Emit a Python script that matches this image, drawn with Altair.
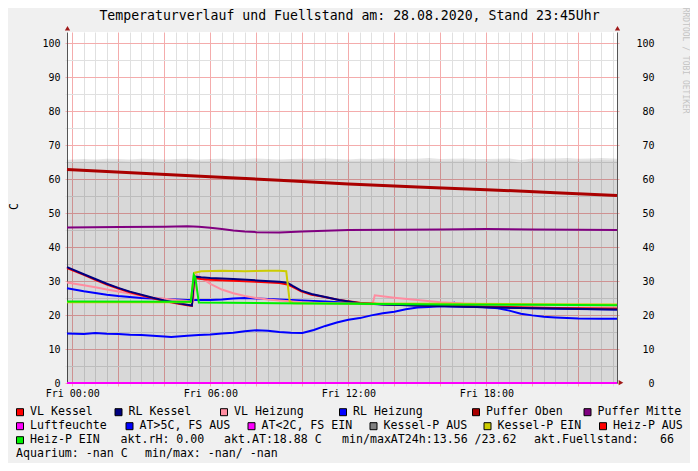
import altair as alt
import pandas as pd

# ---------------- texts ----------------
TITLE = "Temperaturverlauf und Fuellstand am: 28.08.2020, Stand 23:45Uhr"
Y_TITLE = "C"
WATERMARK = "RRDTOOL / TOBI OETIKER"

tick_hours = [0, 6, 12, 18]
tick_labels = ["Fri 00:00", "Fri 06:00", "Fri 12:00", "Fri 18:00"]

series_names = ["VL Kessel", "RL Kessel", "VL Heizung", "RL Heizung", "Puffer Oben",
                "Puffer Mitte", "Luftfeuchte", "AT>5C, FS AUS", "AT<2C, FS EIN",
                "Kessel-P AUS", "Kessel-P EIN", "Heiz-P AUS", "Heiz-P EIN"]
series_colors = ["#ff0000", "#000080", "#ff8ca0", "#0000ff", "#aa0000",
                 "#800080", "#ff00ff", "#0000ff", "#ff00ff",
                 "#808080", "#cccc00", "#ff0000", "#00f000"]

stat_row3 = ["akt.rH: 0.00", "akt.AT:18.88 C", "min/maxAT24h:13.56 /23.62", "akt.Fuellstand:", "66"]
stat_row4 = ["Aquarium: -nan C", "min/max: -nan/ -nan"]

# ---------------- data (hours since Fri 00:00) ----------------
fuell_h = [-0.23] + [i * 0.5 for i in range(48)] + [23.68]
fuell_v = [65.1, 65.1, 65.2, 65.3, 65.3, 65.4, 65.2, 65.3, 65.3, 65.2,
           65.2, 65.4, 65.3, 65.3, 65.4, 65.2, 65.3, 65.4, 65.3, 65.2,
           65.3, 65.4, 65.3, 65.3, 65.4, 65.3, 65.3, 65.4, 65.5, 65.4,
           65.3, 65.4, 65.5, 65.3, 65.4, 65.5, 65.4, 65.3, 65.5, 65.4,
           64.8, 65.5, 65.4, 65.5, 65.5, 65.4, 65.5, 65.6, 65.5, 65.5]
fuell_max = [65.7, 65.8, 65.9, 65.8, 66.0, 65.9, 65.8, 66.0, 65.9, 65.8,
             65.9, 66.0, 65.8, 65.9, 66.0, 65.8, 65.9, 66.1, 65.9, 65.8,
             65.9, 66.0, 65.9, 66.1, 65.9, 65.8, 66.0, 65.9, 66.1, 66.0,
             65.9, 66.0, 66.2, 65.9, 66.0, 66.1, 65.9, 65.9, 66.0, 66.1,
             65.6, 66.1, 66.0, 66.1, 66.2, 66.0, 66.1, 66.2, 66.1, 66.0]

kessel_h = [-0.23, 0.5, 1.0, 1.5, 2.0, 2.5, 3.0, 3.5, 4.0, 4.5, 5.0, 5.2, 5.3, 5.6, 6.0,
            7.0, 8.0, 9.0, 9.35, 9.6, 9.95, 10.4, 10.8, 11.6, 12.5, 13.5, 15.0, 18.0, 21.0, 23.68]
rl_kessel_v = [34.1, 32.0, 30.6, 29.2, 28.0, 26.9, 26.0, 25.1, 24.3, 23.6, 23.0, 22.8, 31.3, 31.1, 30.9,
               30.6, 30.2, 29.8, 29.5, 28.5, 27.2, 26.2, 25.6, 24.4, 23.5, 23.1, 22.8, 22.3, 21.9, 21.6]
vl_kessel_v = [33.8, 31.8, 30.4, 29.0, 27.8, 26.7, 25.8, 24.9, 24.1, 23.5, 22.9, 22.7, 30.9, 30.6, 30.4,
               30.1, 29.8, 29.4, 29.0, 28.2, 27.0, 26.0, 25.5, 24.4, 23.6, 23.2, 22.9, 22.5, 22.1, 21.9]

vl_heiz_h = [-0.23, 0.5, 1.0, 1.5, 2.0, 2.5, 3.0, 3.5, 4.0, 4.5, 5.0, 5.25, 5.4, 5.6, 6.0, 6.5,
             7.0, 7.5, 8.0, 8.5, 9.0, 10.0, 11.0, 12.0, 13.05, 13.15, 14.0, 15.0, 16.0, 17.0,
             18.0, 20.0, 23.68]
vl_heiz_v = [29.6, 28.8, 28.2, 27.5, 26.9, 26.3, 25.7, 25.2, 24.8, 24.4, 24.1, 24.0, 31.8, 31.0, 29.2, 27.5,
             26.4, 25.6, 25.0, 24.6, 24.3, 23.8, 23.5, 23.3, 23.2, 25.8, 25.1, 24.4, 23.8, 23.4,
             23.2, 23.0, 22.8]

rl_heiz_h = [-0.23, 0.5, 1.0, 1.5, 2.0, 2.5, 3.0, 4.0, 5.0, 6.0, 6.5, 7.0, 7.5, 8.0, 9.0,
             10.0, 11.0, 12.0, 13.0, 14.0, 16.0, 18.0, 20.0, 22.0, 23.68]
rl_heiz_v = [27.9, 27.0, 26.5, 26.0, 25.6, 25.3, 25.0, 24.7, 24.4, 24.4, 24.6, 24.9, 25.0, 24.9, 24.6,
             24.3, 24.0, 23.6, 23.3, 23.0, 22.6, 22.3, 22.0, 21.8, 21.6]

at_h = [-0.23, 0.5, 1.0, 1.5, 2.0, 2.5, 3.0, 3.5, 4.0, 4.3, 5.0, 5.5, 6.0, 6.5, 7.0, 7.5,
        8.0, 8.5, 9.0, 9.5, 10.0, 10.5, 11.0, 11.5, 12.0, 12.5, 13.0, 13.5, 14.0, 14.5,
        15.0, 15.5, 16.0, 16.5, 16.6, 16.7, 17.0, 17.5, 18.0, 18.5, 19.0, 19.5, 20.0, 20.5,
        21.0, 22.0, 23.0, 23.68]
at_v = [14.6, 14.4, 14.7, 14.5, 14.4, 14.2, 14.1, 13.9, 13.7, 13.56, 13.9, 14.1, 14.3, 14.6, 14.8, 15.2,
        15.5, 15.4, 15.0, 14.8, 14.7, 15.6, 16.8, 17.8, 18.6, 19.1, 19.9, 20.5, 21.0, 21.7,
        22.2, 22.4, 22.6, 22.8, 23.62, 22.8, 22.6, 22.5, 22.3, 22.0, 21.3, 20.4, 19.9, 19.5,
        19.3, 19.0, 18.9, 18.88]

puffer_oben_h = [-0.23, 3, 6, 9, 12, 15, 18, 21, 23.68]
puffer_oben_v = [62.8, 61.7, 60.7, 59.7, 58.6, 57.7, 56.9, 56.0, 55.2]

puffer_mitte_h = [-0.23, 2, 4, 5, 5.5, 6, 6.5, 7, 7.5, 8, 9, 10, 11, 12, 14, 16, 18, 20, 22, 23.68]
puffer_mitte_v = [45.8, 45.9, 46.0, 46.1, 46.0, 45.7, 45.3, 44.9, 44.6, 44.4, 44.3, 44.6, 44.8,
                  45.0, 45.1, 45.2, 45.3, 45.2, 45.1, 45.0]

luft_h = [-0.23, 23.68]
luft_v = [0.0, 0.0]

kp_ein_h = [-0.23, 5.15, 5.3, 5.6, 6.5, 7.5, 8.5, 9.0, 9.3, 9.45, 9.6, 12, 16, 20, 23.68]
kp_ein_v = [23.8, 23.8, 32.4, 32.9, 33.0, 32.9, 33.0, 33.0, 32.9, 24.0, 23.5, 23.4, 23.3, 23.2, 23.1]

hp_ein_h = [-0.23, 5.15, 5.28, 5.35, 5.5, 9, 12, 16, 20, 23.68]
hp_ein_v = [24.0, 23.9, 31.8, 31.0, 23.7, 23.5, 23.3, 23.1, 23.0, 22.9]

# ---------------- layout ----------------
W, H = 550, 351
X_DOMAIN = [-0.23, 23.68]
Y_DOMAIN = [0, 103.3]
PX0, PY0 = 67, 32.3          # plot origin in window coordinates
MONO = "DejaVu Sans Mono"
MAJOR = "#f4acac"
MINOR = "#e0e0e0"
AXIS_COL = "#555555"
ARROW_COL = "#a01818"

x_scale = alt.Scale(domain=X_DOMAIN, nice=False, zero=False)
y_scale = alt.Scale(domain=Y_DOMAIN, nice=False, zero=False)

label_expr = " : ".join(f"datum.value == {h} ? '{t}'" for h, t in zip(tick_hours, tick_labels)) + " : ''"

x_axis = alt.Axis(
    values=[i * 0.5 for i in range(48)], grid=True,
    gridColor={"condition": {"test": "datum.value % 2 == 0", "value": MAJOR}, "value": MINOR},
    tickColor={"condition": {"test": "datum.value % 2 == 0", "value": MAJOR}, "value": MINOR},
    gridWidth=1, tickSize=3, domain=True, domainColor=AXIS_COL,
    labelExpr=label_expr, labelOverlap=False, labelFlush=False, labelBound=False,
    labelFont=MONO, labelFontSize=10, labelColor="black", labelPadding=2, title=None)

y_axis_left = alt.Axis(
    values=list(range(0, 101, 5)), grid=True,
    gridColor={"condition": {"test": "datum.value % 10 == 0", "value": MAJOR}, "value": MINOR},
    tickColor={"condition": {"test": "datum.value % 10 == 0", "value": MAJOR}, "value": MINOR},
    tickSize=2, domain=True, domainColor=AXIS_COL,
    labelExpr="datum.value % 10 == 0 ? datum.label : ''", labelOverlap=False,
    labelFont=MONO, labelFontSize=10, labelColor="black", labelPadding=5,
    title=Y_TITLE, titleFont=MONO, titleFontSize=11.6, titleFontWeight="normal",
    titleColor="black", titleX=-53, titleY=174, titleAlign="center", titleBaseline="middle")

y_axis_right = alt.Axis(
    orient="right", values=list(range(0, 101, 10)), grid=False,
    tickSize=2, tickColor=MAJOR, domain=True, domainColor=AXIS_COL,
    labelOverlap=False, labelFont=MONO, labelFontSize=10, labelColor="black",
    labelAlign="right", labelPadding=35, title=None)

one = pd.DataFrame({"k": [0]})
layers = []

# Fuellstand area (semi-transparent so the grid shows through)
fuell_df = pd.DataFrame({"h": fuell_h, "v": fuell_v, "m": fuell_max})
layers.append(alt.Chart(fuell_df).mark_area(color="black", opacity=0.153).encode(
    x=alt.X("h:Q", scale=x_scale, axis=x_axis),
    y=alt.Y("v:Q", scale=y_scale, axis=y_axis_left)))
layers.append(alt.Chart(fuell_df).mark_area(color="black", opacity=0.1).encode(
    x=alt.X("h:Q", scale=x_scale, axis=None),
    y=alt.Y("m:Q", scale=y_scale, axis=None), y2="v:Q"))


def line(hs, vs, color, width=2, axis=None):
    df = pd.DataFrame({"h": hs, "v": vs})
    return alt.Chart(df).mark_line(color=color, strokeWidth=width).encode(
        x=alt.X("h:Q", scale=x_scale, axis=None),
        y=alt.Y("v:Q", scale=y_scale, axis=axis))


col = dict(zip(series_names, series_colors))
layers.append(line(puffer_oben_h, puffer_oben_v, col["Puffer Oben"], 3, y_axis_right))
layers.append(line(puffer_mitte_h, puffer_mitte_v, col["Puffer Mitte"], 2))
layers.append(line(luft_h, luft_v, col["Luftfeuchte"], 2))
layers.append(line(at_h, at_v, col["AT>5C, FS AUS"], 2))
layers.append(line(rl_heiz_h, rl_heiz_v, col["RL Heizung"], 2))
layers.append(line(vl_heiz_h, vl_heiz_v, col["VL Heizung"], 2))
layers.append(line(kessel_h, vl_kessel_v, col["VL Kessel"], 2))
layers.append(line(kessel_h, rl_kessel_v, col["RL Kessel"], 2))
layers.append(line(kp_ein_h, kp_ein_v, col["Kessel-P EIN"], 2))
layers.append(line(hp_ein_h, hp_ein_v, col["Heiz-P EIN"], 2))


def text(txt, wx, wy, size=11.6, color="black", align="left", angle=0):
    return alt.Chart(one).mark_text(
        text=txt, align=align, baseline="middle", font=MONO, fontSize=size,
        color=color, angle=angle).encode(x=alt.value(wx - PX0), y=alt.value(wy - PY0))


# arrows at axis ends
for shape, wx, wy in [("triangle-up", 67.5, 28.5), ("triangle-up", 617.5, 28.5), ("triangle-right", 621, 383)]:
    layers.append(alt.Chart(one).mark_point(shape=shape, filled=True, color=ARROW_COL, opacity=1, size=28)
                  .encode(x=alt.value(wx - PX0), y=alt.value(wy - PY0)))

# title and watermark
layers.append(text(TITLE, 349.5, 16.5, size=13.2, align="center"))
layers.append(text(WATERMARK, 685, 8, size=8, color="#c4c4c4", angle=90))

# legend
row_y = [412.5, 426.5, 440.5, 454.5]
sq_left = [16, 114.5, 220, 339, 472, 583.5, 16, 125.5, 247.5, 369.5, 483.5, 599, 16]
sq_row = [0, 0, 0, 0, 0, 0, 1, 1, 1, 1, 1, 1, 2]
for name, c, xl, r in zip(series_names, series_colors, sq_left, sq_row):
    layers.append(alt.Chart(one).mark_square(size=49, fill=c, stroke="black", strokeWidth=1, opacity=1)
                  .encode(x=alt.value(xl + 4 - PX0), y=alt.value(row_y[r] - PY0)))
    layers.append(text(name, xl + 14, row_y[r]))

for s, xl in zip(stat_row3, [120.5, 224, 342, 534, 660]):
    layers.append(text(s, xl, row_y[2]))
for s, xl in zip(stat_row4, [16, 145]):
    layers.append(text(s, xl, row_y[3]))

chart = (alt.layer(*layers)
         .resolve_axis(x="independent", y="independent")
         .properties(width=W, height=H, background="#f0f0f0",
                     padding={"left": 59, "top": 24, "right": 73, "bottom": 80},
                     autosize=alt.AutoSizeParams(type="none"))
         .configure(font=MONO)
         .configure_view(fill="white", strokeWidth=0))

chart.save("out.html", embed_options={"renderer": "svg", "actions": False})
